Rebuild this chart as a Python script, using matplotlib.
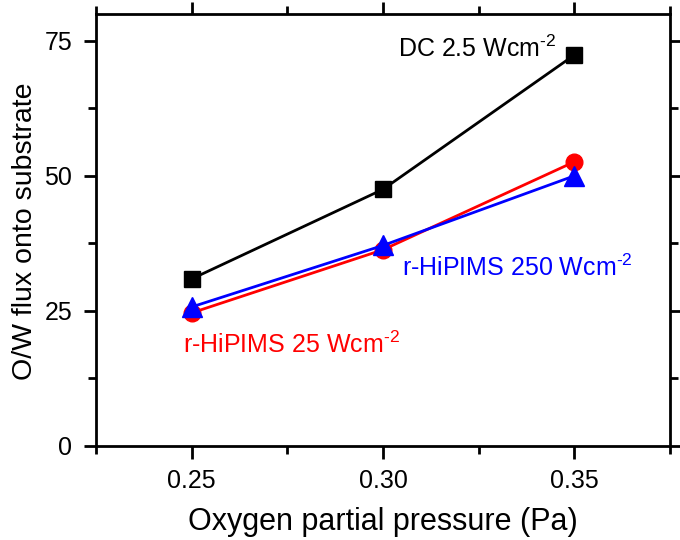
import matplotlib
matplotlib.use("Agg")
import matplotlib.pyplot as plt
from matplotlib.ticker import MultipleLocator

plt.rcParams['font.family'] = ['Liberation Sans', 'DejaVu Sans']
plt.rcParams['mathtext.fontset'] = 'custom'
plt.rcParams['mathtext.rm'] = 'Liberation Sans'

pressure = [0.25, 0.30, 0.35]
dc_flux = [30.9, 47.5, 72.4]
hipims25_flux = [24.6, 36.3, 52.6]
hipims250_flux = [25.7, 37.1, 50.0]

fig = plt.figure(figsize=(6.8, 5.4), dpi=100)
ax = fig.add_axes([96/680, 1-445.6/540, 574/680, 431.6/540])

ax.plot(pressure, dc_flux, color='black', lw=2, marker='s', ms=11.5, zorder=3)
ax.plot(pressure, hipims25_flux, color='red', lw=2, marker='o', ms=12, zorder=3)
ax.plot(pressure, hipims250_flux, color='blue', lw=2, marker='^', ms=14, zorder=4)

ax.set_xlim(0.225, 0.375)
ax.set_ylim(0, 80)
ax.xaxis.set_major_locator(MultipleLocator(0.05))
ax.xaxis.set_minor_locator(MultipleLocator(0.025))
ax.yaxis.set_major_locator(MultipleLocator(25))
ax.yaxis.set_minor_locator(MultipleLocator(12.5))
ax.xaxis.set_major_formatter(plt.FuncFormatter(lambda v, p: f"{v:.2f}"))

for s in ax.spines.values():
    s.set_linewidth(2)
ax.tick_params(which='both', direction='out', top=True, right=True, width=2)
ax.tick_params(which='major', length=9, labelsize=18, pad=8)
ax.tick_params(which='minor', length=6)

ax.set_xlabel('Oxygen partial pressure (Pa)', fontsize=22, labelpad=10)
ax.set_ylabel('O/W flux onto substrate', fontsize=20.5)
ax.yaxis.set_label_coords(-0.101, 0.496)

ax.text(0.3039, 73.6, r'DC 2.5 Wcm$^{\text{-2}}$', fontsize=18, color='black', va='center')
ax.text(0.3050, 32.9, r'r-HiPIMS 250 Wcm$^{\text{-2}}$', fontsize=18, color='blue', va='center')
ax.text(0.2477, 18.6, r'r-HiPIMS 25 Wcm$^{\text{-2}}$', fontsize=18, color='red', va='center')

fig.savefig('out.png', dpi=100)
